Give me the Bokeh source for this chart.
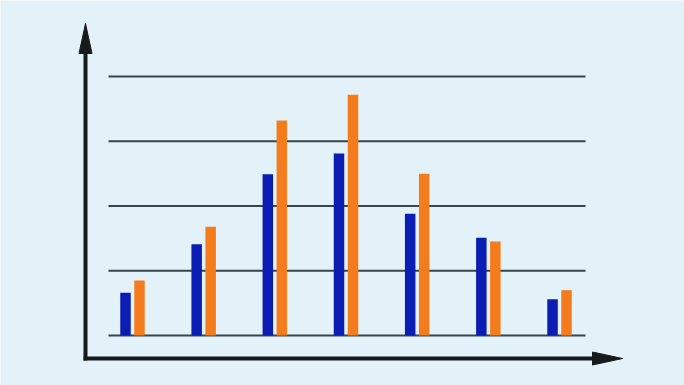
from bokeh.plotting import figure
from bokeh.models import Range1d
from bokeh.embed import file_html
from bokeh.resources import INLINE

# ---- data ----
groups = [0, 1, 2, 3, 4, 5, 6]
blue_vals = [0.66, 1.41, 2.49, 2.81, 1.88, 1.51, 0.56]
orange_vals = [0.85, 1.68, 3.32, 3.72, 2.50, 1.45, 0.70]
grid_levels = [0, 1, 2, 3, 4]

W, H = 684, 385
# pixel scale of the data space
PX_PER_X = 71.17
PX_PER_Y = 64.75

p = figure(width=W, height=H, output_backend="svg", toolbar_location=None,
           x_axis_type=None, y_axis_type=None, min_border=0,
           x_range=Range1d(-132 / PX_PER_X, (W - 132) / PX_PER_X),
           y_range=Range1d(-(H - 335) / PX_PER_Y, 335 / PX_PER_Y))
p.outline_line_color = None
p.background_fill_color = "#e2f2f8"
p.border_fill_color = "#e2f2f8"

# grid lines (partial width)
g_left, g_right = -24 / PX_PER_X, 453 / PX_PER_X
p.segment(x0=[g_left] * len(grid_levels), x1=[g_right] * len(grid_levels),
          y0=grid_levels, y1=grid_levels, line_color="#37454b", line_width=1.8)

# bars
bw = 10.5 / PX_PER_X
off = 7 / PX_PER_X
p.vbar(x=[g - off for g in groups], top=blue_vals, bottom=0, width=bw,
       fill_color="#0b1db3", line_color=None)
p.vbar(x=[g + off for g in groups], top=orange_vals, bottom=0, width=bw,
       fill_color="#f47c1c", line_color=None)

# axes with arrows
ax_x = -47 / PX_PER_X          # vertical axis position
ax_y = -23 / PX_PER_Y          # horizontal axis position
y_tip = 312 / PX_PER_Y
x_tip = 490 / PX_PER_X
head_len_y = 30 / PX_PER_Y
head_len_x = 30 / PX_PER_X
half_w_x = 6.5 / PX_PER_X
half_w_y = 6.5 / PX_PER_Y
axis_col = "#161a1c"

p.segment(x0=[ax_x, ax_x - 2 / PX_PER_X], y0=[ax_y - 2 / PX_PER_Y, ax_y],
          x1=[ax_x, x_tip - head_len_x + 2 / PX_PER_X], y1=[y_tip - head_len_y + 2 / PX_PER_Y, ax_y],
          line_color=axis_col, line_width=4)
p.patches(xs=[[ax_x - half_w_x, ax_x, ax_x + half_w_x],
              [x_tip - head_len_x, x_tip, x_tip - head_len_x]],
          ys=[[y_tip - head_len_y, y_tip, y_tip - head_len_y],
              [ax_y + half_w_y, ax_y, ax_y - half_w_y]],
          fill_color=axis_col, line_color=axis_col, line_width=1)

open("out.html", "w").write(file_html(p, INLINE))
